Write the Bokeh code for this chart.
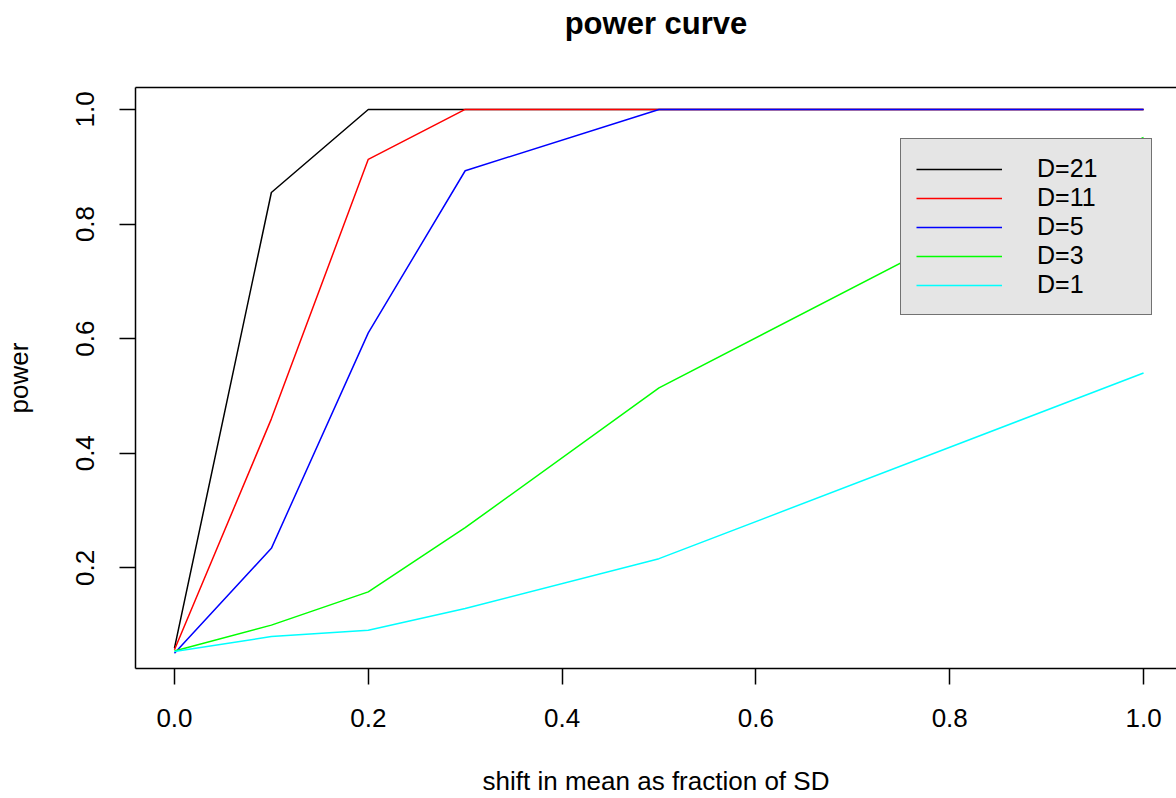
from bokeh.plotting import figure
from bokeh.models import (Range1d, FixedTicker, LinearAxis, Legend, LegendItem)
from bokeh.embed import file_html
from bokeh.resources import INLINE

# ---- data ----
shift = [0.0, 0.1, 0.2, 0.3, 0.5, 1.0]
power_D21 = [0.060, 0.855, 1.000, 1.000, 1.000, 1.000]
power_D11 = [0.057, 0.460, 0.913, 1.000, 1.000, 1.000]
power_D5 = [0.051, 0.234, 0.610, 0.893, 1.000, 1.000]
power_D3 = [0.055, 0.100, 0.158, 0.270, 0.514, 0.951]
power_D1 = [0.054, 0.080, 0.091, 0.129, 0.216, 0.540]
series_labels = ["D=21", "D=11", "D=5", "D=3", "D=1"]
series_colors = ["#000000", "#FF0000", "#0000FF", "#00FF00", "#00FFFF"]
x_ticks = [0.0, 0.2, 0.4, 0.6, 0.8, 1.0]
x_tick_labels = ["0.0", "0.2", "0.4", "0.6", "0.8", "1.0"]
y_ticks = [0.2, 0.4, 0.6, 0.8, 1.0]
y_tick_labels = ["0.2", "0.4", "0.6", "0.8", "1.0"]

FONT = "Liberation Sans"

p = figure(width=1176, height=798, output_backend="svg", toolbar_location=None,
           x_range=Range1d(-0.0402, 1.034), y_range=Range1d(0.0243, 1.0383),
           min_border_left=135, min_border_right=0, min_border_top=87,
           min_border_bottom=130, x_axis_label="shift in mean as fraction of SD",
           y_axis_label="power")
p.outline_line_color = None
p.xgrid.visible = False
p.ygrid.visible = False
p.background_fill_color = "white"
p.border_fill_color = "white"

p.title.text = "power curve"
p.title.align = "center"
p.title.text_font = FONT
p.title.text_font_size = "31px"
p.title.text_font_style = "bold"
p.title.text_color = "black"
p.title.standoff = 4
p.title.offset = 3

all_series = [power_D21, power_D11, power_D5, power_D3, power_D1]
renderers = []
for ys, col in zip(all_series, series_colors):
    r = p.line(shift, ys, line_color=col, line_width=1.5)
    renderers.append(r)

for ax in (p.xaxis[0], p.yaxis[0]):
    ax.axis_line_width = 1.5
    ax.axis_line_color = "black"
    ax.major_tick_line_width = 1.5
    ax.major_tick_in = 0
    ax.major_tick_out = 16
    ax.minor_tick_line_color = None
    ax.major_label_text_font = FONT
    ax.major_label_text_font_size = "26px"
    ax.major_label_text_color = "black"
    ax.axis_label_text_font = FONT
    ax.axis_label_text_font_size = "26px"
    ax.axis_label_text_font_style = "normal"
    ax.axis_label_text_color = "black"

p.xaxis[0].ticker = FixedTicker(ticks=x_ticks)
p.xaxis[0].major_label_overrides = {t: l for t, l in zip(x_ticks, x_tick_labels)}
p.xaxis[0].major_label_standoff = 24
p.xaxis[0].axis_label_standoff = 36

p.yaxis[0].ticker = FixedTicker(ticks=y_ticks)
p.yaxis[0].major_label_overrides = {t: l for t, l in zip(y_ticks, y_tick_labels)}
p.yaxis[0].major_label_orientation = "vertical"
p.yaxis[0].major_label_standoff = 25
p.yaxis[0].axis_label_standoff = 40

# top edge of the box (no ticks); a blank label spaces the title upward
top_axis = LinearAxis(ticker=FixedTicker(ticks=[]), axis_line_width=1.5,
                      axis_line_color="black", major_tick_line_color=None,
                      major_tick_out=0, major_tick_in=0,
                      major_label_standoff=0, axis_label=" ",
                      axis_label_text_font_size="1px", axis_label_standoff=41,
                      minor_tick_line_color=None, major_label_text_font_size="0px")
p.add_layout(top_axis, "above")

legend = Legend(items=[LegendItem(label=lab, renderers=[r])
                       for lab, r in zip(series_labels, renderers)])
legend.location = (765, 353)
legend.background_fill_color = "#E5E5E5"
legend.background_fill_alpha = 1.0
legend.border_line_color = "black"
legend.border_line_width = 1.5
legend.padding = 15
legend.spacing = 0
legend.margin = 0
legend.glyph_width = 86
legend.glyph_height = 20
legend.label_height = 20
legend.label_width = 99
legend.label_standoff = 35
legend.label_text_font = FONT
legend.label_text_font_size = "25px"
legend.label_text_color = "black"
p.add_layout(legend)

open("out.html", "w").write(file_html(p, INLINE))
